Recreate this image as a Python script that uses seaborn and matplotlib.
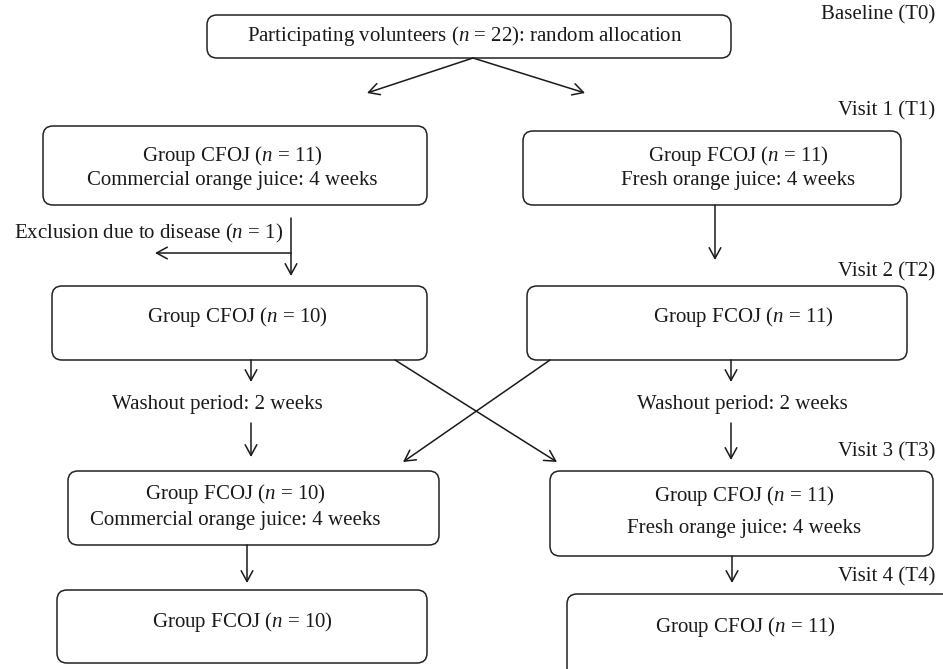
import matplotlib
matplotlib.use("Agg")
import matplotlib.pyplot as plt
from matplotlib.patches import FancyBboxPatch
import seaborn as sns

# box labels, top to bottom, left column then right column
box_labels = [
    "Participating volunteers ($n$ = 22): random allocation",
    "Group CFOJ ($n$ = 11)\nCommercial orange juice: 4 weeks",
    "Group FCOJ ($n$ = 11)\nFresh orange juice: 4 weeks",
    "Group CFOJ ($n$ = 10)",
    "Group FCOJ ($n$ = 11)",
    "Group FCOJ ($n$ = 10)\nCommercial orange juice: 4 weeks",
    "Group CFOJ ($n$ = 11)\nFresh orange juice: 4 weeks",
    "Group FCOJ ($n$ = 10)",
    "Group CFOJ ($n$ = 11)",
]
# box layout in pixels: x0, y0, x1, y1
box_x0 = [207, 43, 523, 52, 527, 68, 550, 57, 567]
box_y0 = [15, 126, 131, 286, 286, 471, 471, 590, 594]
box_x1 = [731, 427, 901, 427, 907, 439, 933, 427, 965]
box_y1 = [58, 205, 205, 360, 360, 545, 556, 663, 700]
# text anchor and line spacing for each box
text_x = [465, 232, 738, 237, 743, 235, 744, 242, 745]
text_y = [36, 167, 167, 317, 317, 506, 511, 622, 627]
line_sp = [1.2, 1.2, 1.2, 1.2, 1.2, 1.3, 1.8, 1.2, 1.2]

visit_labels = ["Baseline (T0)", "Visit 1 (T1)", "Visit 2 (T2)", "Visit 3 (T3)", "Visit 4 (T4)"]
visit_y = [15, 111, 272, 452, 577]

side_labels = ["Exclusion due to disease ($n$ = 1)",
               "Washout period: 2 weeks", "Washout period: 2 weeks"]
side_x = [149, 217, 742]
side_y = [233, 405, 405]

# arrows: start -> end
arrow_x0 = [473, 473, 291, 291, 715, 251, 251, 731, 731, 395, 550, 247, 732]
arrow_y0 = [58, 58, 218, 253, 205, 360, 423, 360, 423, 360, 360, 545, 556]
arrow_x1 = [367, 585, 291, 155, 715, 251, 251, 731, 731, 557, 403, 247, 732]
arrow_y1 = [93, 93, 276, 253, 260, 382, 457, 382, 460, 462, 462, 583, 583]

sns.set_theme(style="white")
plt.rcParams["font.family"] = ["Liberation Serif", "DejaVu Serif"]
plt.rcParams["mathtext.fontset"] = "custom"
plt.rcParams["mathtext.rm"] = "Liberation Serif"
plt.rcParams["mathtext.it"] = "Liberation Serif:italic"

fig = plt.figure(figsize=(9.43, 6.69), dpi=100)
ax = fig.add_axes([0, 0, 1, 1])
ax.set_xlim(0, 943)
ax.set_ylim(669, 0)
ax.axis("off")

fs = 15
for lab, x0, y0, x1, y1, tx, ty, ls in zip(box_labels, box_x0, box_y0, box_x1, box_y1,
                                           text_x, text_y, line_sp):
    ax.add_patch(FancyBboxPatch((x0, y0), x1 - x0, y1 - y0,
                                boxstyle="round,pad=0,rounding_size=10",
                                fc="white", ec="#222222", lw=1.1, clip_on=True))
    ax.text(tx, ty, lab, ha="center", va="center", fontsize=fs, color="#1a1a1a",
            linespacing=ls)

for lab, y in zip(visit_labels, visit_y):
    ax.text(935, y, lab, ha="right", va="center", fontsize=fs, color="#1a1a1a")

for lab, x, y in zip(side_labels, side_x, side_y):
    ax.text(x, y, lab, ha="center", va="center", fontsize=fs, color="#1a1a1a")

# exclusion branch: the horizontal arrow leaves the vertical line
for x0, y0, x1, y1 in zip(arrow_x0, arrow_y0, arrow_x1, arrow_y1):
    ax.annotate("", xy=(x1, y1), xytext=(x0, y0),
                arrowprops=dict(arrowstyle="->,head_length=0.55,head_width=0.3",
                                lw=1.1, color="#1a1a1a", mutation_scale=14,
                                shrinkA=0, shrinkB=0))

fig.savefig("out.png", dpi=100, facecolor="white")
